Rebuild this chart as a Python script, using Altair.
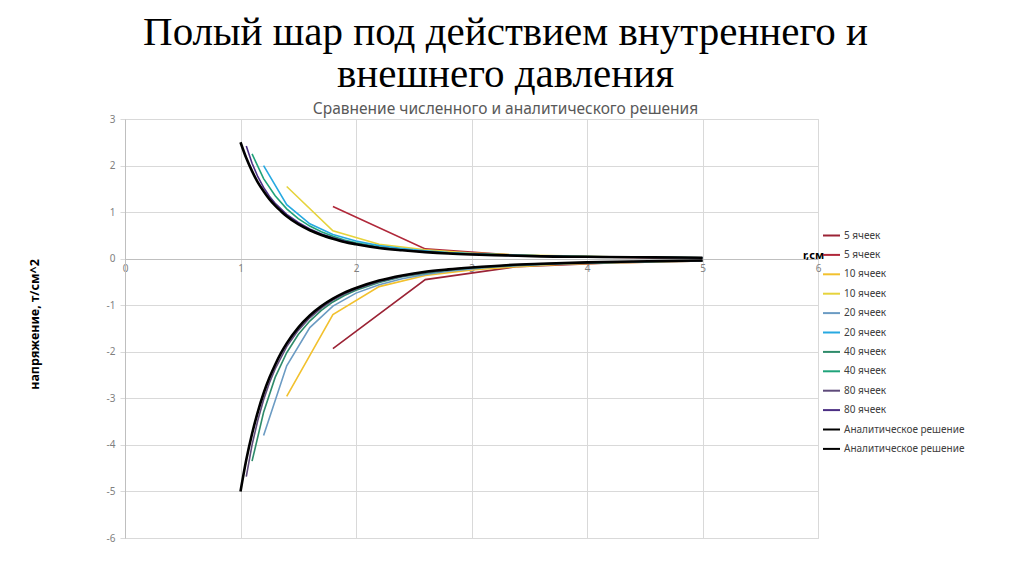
import altair as alt
import pandas as pd

# ---- data ----
r5 = [1.8, 2.6, 3.4, 4.2, 5.0]
neg5 = [-1.93, -0.45, -0.17, -0.09, -0.05]
pos5 = [1.12, 0.21, 0.07, 0.03, 0.01]

r10 = [1.4, 1.8, 2.2, 2.6, 3.0, 3.4, 3.8, 4.2, 4.6, 5.0]
neg10 = [-2.96, -1.20, -0.60, -0.36, -0.24, -0.17, -0.12, -0.09, -0.07, -0.05]
pos10 = [1.55, 0.60, 0.31, 0.19, 0.12, 0.08, 0.06, 0.04, 0.03, 0.02]

r20 = [1.2, 1.4, 1.6, 1.8, 2.0, 2.2, 2.4, 2.6, 2.8, 3.0,
       3.2, 3.4, 3.6, 3.8, 4.0, 4.2, 4.4, 4.6, 4.8, 5.0]
neg20 = [-3.80, -2.30, -1.48, -1.02, -0.74, -0.56, -0.43, -0.34, -0.27, -0.22,
         -0.18, -0.15, -0.13, -0.11, -0.095, -0.085, -0.075, -0.065, -0.058, -0.05]
pos20 = [2.00, 1.16, 0.75, 0.52, 0.38, 0.28, 0.22, 0.17, 0.13, 0.11,
         0.09, 0.07, 0.06, 0.05, 0.045, 0.04, 0.035, 0.03, 0.025, 0.02]

r40 = [1.1, 1.2, 1.3, 1.4, 1.5, 1.6, 1.7, 1.8, 1.9, 2.0,
       2.2, 2.4, 2.6, 2.8, 3.0, 3.4, 3.8, 4.2, 4.6, 5.0]
neg40 = [-4.35, -3.30, -2.55, -2.02, -1.63, -1.34, -1.11, -0.93, -0.79, -0.68,
         -0.51, -0.39, -0.31, -0.25, -0.20, -0.14, -0.10, -0.08, -0.06, -0.045]
pos40 = [2.25, 1.72, 1.35, 1.07, 0.86, 0.70, 0.58, 0.48, 0.40, 0.34,
         0.25, 0.19, 0.15, 0.12, 0.10, 0.07, 0.05, 0.035, 0.03, 0.02]

r80 = [1.05, 1.1, 1.15, 1.2, 1.25, 1.3, 1.4, 1.5, 1.6, 1.7, 1.8, 1.9, 2.0,
       2.2, 2.4, 2.6, 2.8, 3.0, 3.4, 3.8, 4.2, 4.6, 5.0]
neg80 = [-4.68, -4.00, -3.47, -3.03, -2.67, -2.37, -1.89, -1.54, -1.27, -1.06, -0.89, -0.76, -0.65,
         -0.49, -0.375, -0.295, -0.235, -0.19, -0.13, -0.095, -0.07, -0.055, -0.042]
pos80 = [2.42, 2.05, 1.76, 1.53, 1.34, 1.19, 0.95, 0.78, 0.64, 0.53, 0.45, 0.38, 0.32,
         0.24, 0.185, 0.145, 0.115, 0.095, 0.065, 0.045, 0.035, 0.025, 0.02]

rA = [1.0, 1.05, 1.1, 1.15, 1.2, 1.25, 1.3, 1.35, 1.4, 1.5, 1.6, 1.7, 1.8, 1.9, 2.0,
      2.2, 2.4, 2.6, 2.8, 3.0, 3.3, 3.6, 4.0, 4.4, 4.8, 5.0]
negA = [-5.00, -4.32, -3.76, -3.29, -2.89, -2.56, -2.28, -2.03, -1.82, -1.48, -1.22, -1.02, -0.86, -0.73, -0.63,
        -0.47, -0.36, -0.28, -0.23, -0.19, -0.14, -0.11, -0.08, -0.06, -0.045, -0.04]
posA = [2.50, 2.16, 1.88, 1.64, 1.45, 1.28, 1.14, 1.02, 0.91, 0.74, 0.61, 0.51, 0.43, 0.36, 0.31,
        0.23, 0.18, 0.14, 0.11, 0.09, 0.07, 0.05, 0.04, 0.03, 0.025, 0.02]

series_names = ["5 ячеек|1", "5 ячеек|2", "10 ячеек|1", "10 ячеек|2",
                "20 ячеек|1", "20 ячеек|2", "40 ячеек|1", "40 ячеек|2",
                "80 ячеек|1", "80 ячеек|2",
                "Аналитическое решение|1", "Аналитическое решение|2"]
series_colors = ["#9b2335", "#b0283a", "#f2c12e", "#e6d33c",
                 "#6b9bc3", "#27a9e1", "#2e8b6a", "#1fa37a",
                 "#5e4a7a", "#4b2e83", "#000000", "#000000"]

series_data = [(r5, neg5), (r5, pos5), (r10, neg10), (r10, pos10),
               (r20, neg20), (r20, pos20), (r40, neg40), (r40, pos40),
               (r80, neg80), (r80, pos80), (rA, negA), (rA, posA)]

rows = []
for name, (rs, vs) in zip(series_names, series_data):
    for r, v in zip(rs, vs):
        rows.append({"s": name, "r": r, "v": v, "an": name.startswith("Анал")})
df = pd.DataFrame(rows)

color = alt.Color("s:N",
                  scale=alt.Scale(domain=series_names, range=series_colors),
                  legend=alt.Legend(title=None, orient="none", legendX=697, legendY=107,
                                    symbolType="stroke", symbolSize=289, symbolStrokeWidth=2,
                                    labelFont="Noto Sans", labelFontSize=10, labelColor="#404040",
                                    rowPadding=4.4, labelOffset=3,
                                    labelExpr="split(datum.label, '|')[0]"))

x = alt.X("r:Q", scale=alt.Scale(domain=[0, 6], nice=False),
          axis=alt.Axis(values=[0, 1, 2, 3, 4, 5, 6], offset=-279, grid=True,
                        gridColor="#d9d9d9", domainColor="#bfbfbf", ticks=False,
                        labelFont="Noto Sans", labelFontSize=10, labelColor="#7f7f7f",
                        labelFlush=False, labelPadding=4,
                        labelExpr="toString(datum.value)",
                        title="r,см", titleFont="Noto Sans", titleFontSize=11,
                        titleFontWeight="bold", titleColor="#000000",
                        titleX=688, titleY=-4, titleAlign="center", titleBaseline="middle"))
y = alt.Y("v:Q", scale=alt.Scale(domain=[-6, 3], nice=False),
          axis=alt.Axis(values=[-6, -5, -4, -3, -2, -1, 0, 1, 2, 3], grid=True,
                        gridColor="#d9d9d9", domainColor="#bfbfbf", tickColor="#d9d9d9",
                        tickSize=5, labelFont="Noto Sans", labelFontSize=10,
                        labelColor="#7f7f7f", labelPadding=5, labelFlush=False,
                        labelExpr="toString(datum.value)",
                        title="напряжение, т/см^2", titleFont="Noto Sans", titleFontSize=12.5,
                        titleFontWeight="bold", titleColor="#000000",
                        titleX=-91, titleY=205, titleAngle=270, titleAlign="center",
                        titleBaseline="middle"))

base = alt.Chart(df)
num = base.transform_filter("!datum.an").mark_line(strokeWidth=1.6).encode(
    x=x, y=y, color=color, order="r:Q")
ana = base.transform_filter("datum.an").mark_line(strokeWidth=2.6, interpolate="monotone").encode(
    x=x, y=y, color=color, order="r:Q")

chart = alt.layer(num, ana).properties(
    width=693, height=419,
    padding={"left": 20, "top": 3, "right": 5, "bottom": 5},
    title=alt.TitleParams(
        text=["Полый шар под действием внутреннего и", "внешнего давления"],
        subtitle="Сравнение численного и аналитического решения",
        font="Liberation Serif", fontSize=41, fontWeight="normal", color="#000000",
        lineHeight=42, subtitleFont="Noto Sans", subtitleFontSize=15.5,
        subtitleColor="#595959", subtitlePadding=6, anchor="middle", offset=-4, dx=34),
).configure_view(stroke="#d9d9d9")

chart.save("out.html", embed_options={"renderer": "svg", "actions": False})
